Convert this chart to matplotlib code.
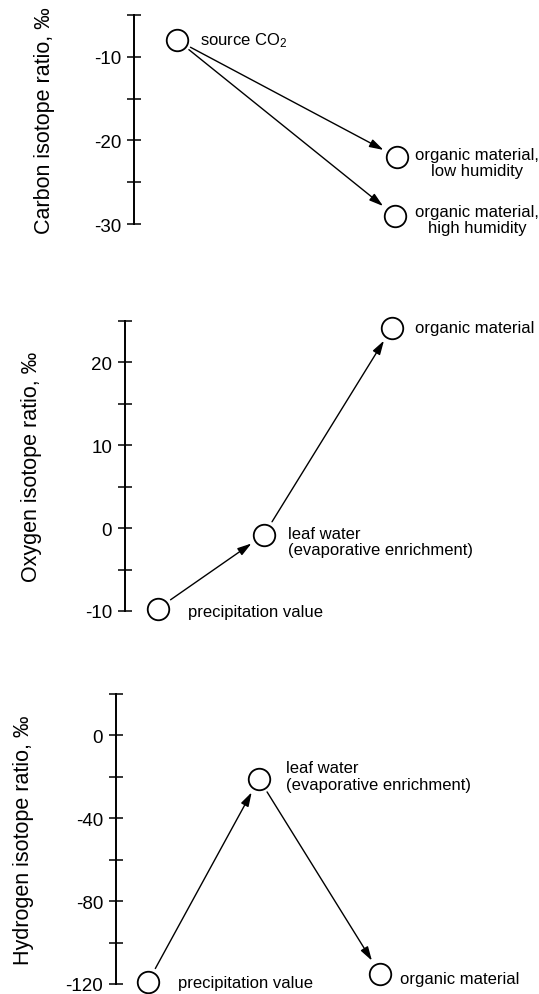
import matplotlib
matplotlib.use("Agg")
import matplotlib.pyplot as plt
from matplotlib.ticker import FixedLocator, NullFormatter

plt.rcParams['font.family'] = ['Liberation Sans', 'DejaVu Sans']
plt.rcParams['mathtext.fontset'] = 'custom'
plt.rcParams['mathtext.rm'] = 'Liberation Sans'
plt.rcParams['mathtext.it'] = 'Liberation Sans:italic'

W, H = 539, 995

# ---------------- data ----------------
carbon_names = ["source CO$_2$", "organic material,\nlow humidity",
                "organic material,\nhigh humidity"]
carbon_x = [43, 263, 261]          # horizontal stage position
carbon_y = [-8, -22, -29]          # per mil
carbon_links = [(0, 1), (0, 2)]
carbon_major = [-10, -20, -30]
carbon_minor = [-5, -15, -25]
carbon_label = "Carbon isotope ratio, \u2030"

oxygen_names = ["precipitation value", "leaf water\n(evaporative enrichment)",
                "organic material"]
oxygen_x = [33, 139, 267]
oxygen_y = [-9.7, -0.8, 24.2]
oxygen_links = [(0, 1), (1, 2)]
oxygen_major = [20, 10, 0, -10]
oxygen_minor = [25, 15, 5, -5]
oxygen_label = "Oxygen isotope ratio, \u2030"

hydrogen_names = ["precipitation value", "leaf water\n(evaporative enrichment)",
                  "organic material"]
hydrogen_x = [32, 143, 264]
hydrogen_y = [-119, -21, -115]
hydrogen_links = [(0, 1), (1, 2)]
hydrogen_major = [0, -40, -80, -120]
hydrogen_minor = [20, -20, -60, -100]
hydrogen_label = "Hydrogen isotope ratio, \u2030"

# ---------------- layout (pixels) ----------------
panels = [
    dict(names=carbon_names, x=carbon_x, y=carbon_y, links=carbon_links,
         major=carbon_major, minor=carbon_minor, label=carbon_label,
         ylim=(-30, -5), left=134, top=16, bottom=225, label_x=45,
         offs=[(23, 0, 'left'), (80, -5, 'center'), (82, -4, 'center')]),
    dict(names=oxygen_names, x=oxygen_x, y=oxygen_y, links=oxygen_links,
         major=oxygen_major, minor=oxygen_minor, label=oxygen_label,
         ylim=(-10, 25), left=125, top=322, bottom=612, label_x=32,
         offs=[(30, -3, 'left'), (24, -7, 'left'), (23, 0, 'left')]),
    dict(names=hydrogen_names, x=hydrogen_x, y=hydrogen_y, links=hydrogen_links,
         major=hydrogen_major, minor=hydrogen_minor, label=hydrogen_label,
         ylim=(-120, 20), left=116, top=695, bottom=985, label_x=24,
         offs=[(30, -1, 'left'), (27, 3, 'left'), (20, -5, 'left')]),
]

PT = 72.0 / 100.0  # points per pixel at dpi 100

fig = plt.figure(figsize=(W / 100, H / 100), dpi=100)
fig.patch.set_facecolor('white')

for p in panels:
    rect = [p['left'] / W, 1 - p['bottom'] / H,
            (W - p['left']) / W, (p['bottom'] - p['top']) / H]
    ax = fig.add_axes(rect)
    ax.set_xlim(0, W - p['left'])
    ax.set_ylim(*p['ylim'])
    ax.patch.set_alpha(0)
    for s in ['top', 'right', 'bottom']:
        ax.spines[s].set_visible(False)
    ax.spines['left'].set_linewidth(1.4)
    ax.set_xticks([])
    ax.yaxis.set_major_locator(FixedLocator(p['major']))
    ax.yaxis.set_minor_locator(FixedLocator(p['minor']))
    ax.yaxis.set_minor_formatter(NullFormatter())
    ax.set_yticklabels([str(v) for v in p['major']])
    ax.tick_params(axis='y', which='both', direction='inout', length=9.5,
                   width=1.1, labelsize=13.5, pad=4.5)

    # arrows
    for a, b in p['links']:
        ax.annotate("", xy=(p['x'][b], p['y'][b]), xytext=(p['x'][a], p['y'][a]),
                    arrowprops=dict(arrowstyle='-|>,head_length=0.6,head_width=0.18',
                                    color='black', lw=1.0, shrinkA=11, shrinkB=11,
                                    mutation_scale=14),
                    annotation_clip=False, zorder=2)
    # circles
    ax.plot(p['x'], p['y'], 'o', ms=15.5, mfc='white', mec='black', mew=1.3,
            zorder=3, clip_on=False)
    # labels
    for xi, yi, name, (dx, dy, ha) in zip(p['x'], p['y'], p['names'], p['offs']):
        ax.annotate(name, xy=(xi, yi), xytext=(dx * PT, dy * PT),
                    textcoords='offset points', ha=ha, va='center',
                    fontsize=12, linespacing=1.1, multialignment=ha,
                    annotation_clip=False)

    fig.text(p['label_x'] / W, 1 - (p['top'] + p['bottom']) / 2 / H, p['label'],
             rotation=90, ha='center', va='center', fontsize=15.5)

fig.savefig("out.png", dpi=100, facecolor='white')
